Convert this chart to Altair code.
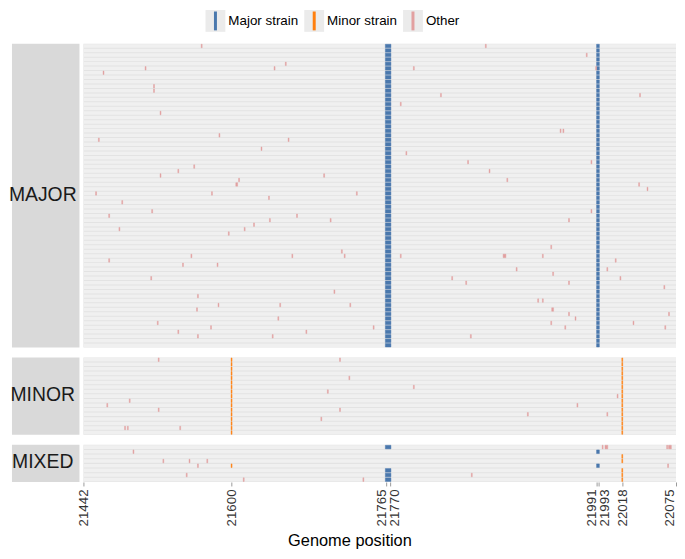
import altair as alt
import pandas as pd

# ---------------- data ----------------
TYPES = ["Major strain", "Minor strain", "Other"]
COLORS = ["#4a78ad", "#ff7f0e", "#e2a0a0"]

X_DOMAIN = [21441.5, 22075.5]
READ_SPAN = [21441.5, 22075.5]
TICK_VALUES = [21442, 21600, 21765, 21770, 21991, 21993, 22018, 22075]

N_MAJOR = 68
N_MINOR = 17
N_MIXED = 8

# major-strain sites (start, end) present in every MAJOR read
MAJOR_SITES = [(21765, 21770), (21991, 21993)]
# minor-strain sites present in every MINOR read
MINOR_SITES = [(21600, 21600), (22018, 22018)]

# "Other" variants in MAJOR reads: (read, start, end)
MAJOR_OTHER = [
    (0, 21568, 21568), (0, 21872, 21872), (2, 21980, 21980), (4, 21658, 21658),
    (5, 21508, 21508), (5, 21646, 21646), (5, 21795, 21795), (5, 21990, 21990),
    (6, 21463, 21463), (9, 21517, 21517), (10, 21517, 21517), (11, 21824, 21824),
    (11, 22037, 22037), (13, 21781, 21781), (15, 21524, 21524), (19, 21952, 21952),
    (19, 21955, 21955), (20, 21587, 21587), (21, 21458, 21458), (21, 21661, 21661),
    (23, 21632, 21632), (24, 21787, 21787), (26, 21853, 21853), (26, 21985, 21985),
    (27, 21560, 21560), (28, 21543, 21543), (28, 21876, 21876), (29, 21524, 21524),
    (29, 21699, 21699), (30, 21608, 21608), (30, 21895, 21895), (31, 21605, 21606),
    (31, 22036, 22036), (32, 22045, 22045), (33, 21455, 21455), (33, 21579, 21579),
    (33, 21734, 21734), (34, 21640, 21640), (35, 21483, 21483), (37, 21515, 21515),
    (37, 21985, 21985), (38, 21469, 21469), (38, 21670, 21670), (39, 21641, 21641),
    (39, 21706, 21706), (39, 21961, 21961), (40, 21624, 21624), (41, 21480, 21480),
    (41, 21614, 21614), (42, 21597, 21597), (45, 21942, 21942), (46, 21718, 21718),
    (47, 21557, 21557), (47, 21665, 21665), (47, 21721, 21721), (47, 21781, 21781),
    (47, 21891, 21893), (47, 21933, 21933), (48, 21469, 21469), (48, 22011, 22011),
    (49, 21548, 21548), (49, 21585, 21585), (50, 21905, 21905), (50, 22002, 22002),
    (51, 21944, 21944), (52, 21514, 21514), (52, 21836, 21836), (52, 22016, 22016),
    (53, 21851, 21851), (53, 21961, 21961), (54, 22063, 22063), (55, 21710, 21710),
    (56, 21564, 21564), (57, 21928, 21928), (57, 21933, 21933), (58, 21586, 21586),
    (58, 21652, 21652), (58, 21727, 21727), (59, 21563, 21563), (59, 21943, 21944),
    (60, 21961, 21961), (60, 22068, 22068), (61, 21650, 21650), (61, 21968, 21968),
    (62, 21521, 21521), (62, 21942, 21942), (62, 22030, 22030), (63, 21578, 21578),
    (63, 21752, 21752), (63, 21957, 21957), (63, 22064, 22064), (64, 21543, 21543),
    (64, 21680, 21680), (65, 21564, 21564), (65, 21644, 21644), (65, 21856, 21856),
]

# "Other" variants in MINOR reads
MINOR_OTHER = [
    (0, 21522, 21522), (0, 21716, 21716), (4, 21726, 21726), (6, 21795, 21795),
    (7, 21703, 21703), (8, 22013, 22013), (9, 21491, 21491), (10, 21467, 21467),
    (10, 21970, 21970), (11, 21522, 21522), (11, 21716, 21716), (12, 21917, 21917),
    (12, 22002, 22002), (13, 21696, 21696), (15, 21486, 21486), (15, 21489, 21489),
    (15, 21545, 21545),
]

# MIXED reads: (read, start, end, type)
MIXED_VARIANTS = [
    (0, 21765, 21770, "Major strain"), (0, 21997, 21997, "Other"),
    (0, 22000, 22002, "Other"), (0, 22066, 22066, "Other"), (0, 22068, 22070, "Other"),
    (1, 21991, 21993, "Major strain"), (1, 21495, 21495, "Other"),
    (2, 22018, 22018, "Minor strain"),
    (3, 22018, 22018, "Minor strain"), (3, 21527, 21527, "Other"),
    (3, 21555, 21555, "Other"), (3, 21574, 21574, "Other"),
    (4, 21991, 21993, "Major strain"), (4, 21600, 21600, "Minor strain"),
    (4, 21564, 21564, "Other"), (4, 22067, 22067, "Other"),
    (5, 21765, 21770, "Major strain"), (5, 22018, 22018, "Minor strain"),
    (6, 21765, 21770, "Major strain"), (6, 22018, 22018, "Minor strain"),
    (6, 21552, 21552, "Other"), (6, 21857, 21857, "Other"),
    (7, 21765, 21770, "Major strain"), (7, 22018, 22018, "Minor strain"),
    (7, 21613, 21613, "Other"), (7, 21741, 21741, "Other"),
]

# ---------------- styling ----------------
FONT = "Liberation Sans"
PANEL_W = 597
STRIP_W = 68
PANEL_H = {"MAJOR": 306, "MINOR": 78, "MIXED": 37.5}
STRIP_FILL = "#d9d9d9"
PANEL_BG = "#e3e3e3"
READ_FILL = "#f0f0f0"

LABEL_SHIFT = ("datum.value == 21765 ? -4.5 : datum.value == 21770 ? 4.5 : "
               "datum.value == 21991 ? -6 : datum.value == 21993 ? 6 : "
               "datum.value == 22075 ? -6.5 : 0")


def variants_major():
    rows = []
    for r in range(N_MAJOR):
        for s, e in MAJOR_SITES:
            rows.append({"read": r, "start": s - 0.5, "end": e + 0.5, "type": "Major strain"})
    for r, s, e in MAJOR_OTHER:
        rows.append({"read": r, "start": s - 0.5, "end": e + 0.5, "type": "Other"})
    return pd.DataFrame(rows)


def variants_minor():
    rows = []
    for r in range(N_MINOR):
        for s, e in MINOR_SITES:
            rows.append({"read": r, "start": s - 0.5, "end": e + 0.5, "type": "Minor strain"})
    for r, s, e in MINOR_OTHER:
        rows.append({"read": r, "start": s - 0.5, "end": e + 0.5, "type": "Other"})
    return pd.DataFrame(rows)


def variants_mixed():
    return pd.DataFrame([
        {"read": r, "start": s - 0.5, "end": e + 0.5, "type": t} for r, s, e, t in MIXED_VARIANTS
    ])


def panel(n, h, vdf, show_axis):
    xscale = alt.Scale(domain=X_DOMAIN, nice=False, zero=False)
    yscale = alt.Scale(domain=list(range(n)), paddingInner=0.22, paddingOuter=0.11)
    if show_axis:
        xaxis = alt.Axis(
            values=TICK_VALUES, labelAngle=-90, labelAlign="right", labelBaseline="middle",
            labelOverlap=False, labelFont=FONT, labelFontSize=13.4, labelColor="#333333",
            labelPadding=3, labelOffset={"expr": LABEL_SHIFT},
            tickColor="#9a9a9a", tickSize=4, domain=False, grid=False,
            title="Genome position", titleFont=FONT, titleFontSize=16.5, titleFontWeight="normal",
            titleColor="#000000", titlePadding=7, titleX=268, titleAlign="center", format="d",
        )
    else:
        xaxis = None
    reads = pd.DataFrame({"read": list(range(n)), "start": READ_SPAN[0], "end": READ_SPAN[1]})
    bg = alt.Chart(reads).mark_rect(color=READ_FILL).encode(
        x=alt.X("start:Q", scale=xscale, axis=xaxis),
        x2="end:Q",
        y=alt.Y("read:O", scale=yscale, axis=None),
    )
    cscale = alt.Scale(domain=TYPES, range=COLORS)
    marks = alt.Chart(vdf).mark_rect(strokeWidth=0.45).encode(
        x=alt.X("start:Q", scale=xscale),
        x2="end:Q",
        y=alt.Y("read:O", scale=yscale, axis=None),
        color=alt.Color("type:N", scale=cscale, legend=None),
        stroke=alt.Stroke("type:N", scale=cscale, legend=None),
    )
    return alt.layer(bg, marks).properties(
        width=PANEL_W, height=h,
        view=alt.ViewBackground(fill=PANEL_BG, stroke=None),
    )


def strip(label, h):
    base = alt.Chart(pd.DataFrame({"label": [label]}))
    box = base.mark_rect(color=STRIP_FILL).encode(
        x=alt.value(0), x2=alt.value(STRIP_W), y=alt.value(0), y2=alt.value(h)
    )
    txt = base.mark_text(font=FONT, fontSize=19.5, color="#1a1a1a", baseline="middle").encode(
        text="label:N", x=alt.value(STRIP_W / 2 - 3), y=alt.value(h / 2 - 1)
    )
    return alt.layer(box, txt).properties(
        width=STRIP_W, height=h, view=alt.ViewBackground(stroke=None)
    )


def row(label, n, vdf, show_axis):
    h = PANEL_H[label]
    return alt.hconcat(strip(label, h), panel(n, h, vdf, show_axis), spacing=4, bounds="flush")


# legend built from the category list
leg_df = pd.DataFrame({"type": TYPES})
lx = alt.X("type:N", scale=alt.Scale(domain=TYPES, type="point", range=[205, 404], padding=0), axis=None)
leg_keys = alt.Chart(leg_df).mark_tick(orient="vertical", size=22, thickness=20, color="#ebebeb", opacity=1).encode(
    x=lx, y=alt.value(11)
)
leg_lines = alt.Chart(leg_df).mark_tick(orient="vertical", size=19, thickness=3, opacity=1).encode(
    x=lx, y=alt.value(11),
    color=alt.Color("type:N", scale=alt.Scale(domain=TYPES, range=COLORS), legend=None),
)
leg_text = alt.Chart(leg_df).mark_text(align="left", baseline="middle", dx=13, font=FONT, fontSize=13.5, color="#000000").encode(
    x=lx, y=alt.value(11), text="type:N"
)
legend = alt.layer(leg_keys, leg_lines, leg_text).properties(
    width=PANEL_W + STRIP_W, height=24, view=alt.ViewBackground(stroke=None)
)

chart = alt.vconcat(
    legend,
    row("MAJOR", N_MAJOR, variants_major(), False),
    row("MINOR", N_MINOR, variants_minor(), False),
    row("MIXED", N_MIXED, variants_mixed(), True),
    spacing=10,
).properties(
    padding=0, background="#ffffff"
).configure_view(stroke=None)

chart.save("out.html", embed_options={"renderer": "svg", "actions": False})
